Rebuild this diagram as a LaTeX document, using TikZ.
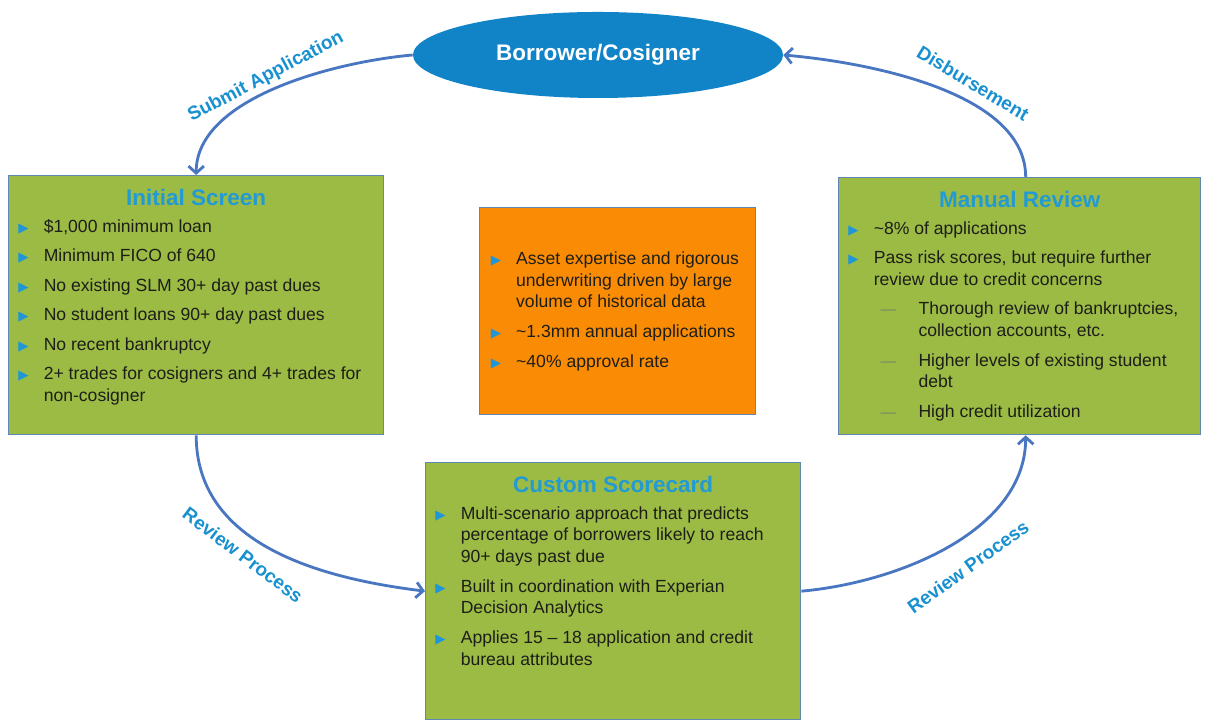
\documentclass[tikz,border=0pt]{standalone}
\usepackage{fontspec}
\setmainfont{Liberation Sans}
\newfontfamily\symfont{DejaVu Sans}
\usetikzlibrary{shapes.geometric,arrows.meta}

\definecolor{boxgreen}{RGB}{155,187,69}
\definecolor{boxorange}{RGB}{250,140,5}
\definecolor{boxedge}{RGB}{95,135,180}
\definecolor{ellblue}{RGB}{17,132,200}
\definecolor{arrowblue}{RGB}{72,118,192}
\definecolor{titleblue}{RGB}{35,155,210}
\definecolor{labelblue}{RGB}{25,145,208}
\definecolor{bulletblue}{RGB}{30,150,215}
\definecolor{bodytext}{RGB}{30,30,25}
\definecolor{dashgray}{RGB}{120,130,105}

\newlength\itmind \setlength\itmind{18pt}
\newcommand\bul{\textcolor{bulletblue}{\symfont\fontsize{9.5}{9.5}\selectfont ▶}}
\newcommand\subdash{\textcolor{dashgray}{\fontsize{11}{11}\selectfont —}}
\newcommand\itm[1]{\par\hangindent=\itmind\hangafter=1\noindent\makebox[\itmind][l]{\bul}#1\par}
\newcommand\subitm[1]{\par{\leftskip=29.8pt\hangindent=27pt\hangafter=1\noindent\makebox[27pt][l]{\subdash}#1\par}}
\newcommand\boxtitle[1]{{\centering\fontsize{16}{19}\selectfont\bfseries\color{titleblue}#1\par}\vspace{-2pt}}
\newcommand\boxbody{\raggedright\leftskip=7pt\rightskip=10pt plus 1fil\hyphenpenalty=10000\exhyphenpenalty=10000
  \parskip=5.5pt\fontsize{12.5}{15.5}\selectfont}

\tikzset{
  stage/.style={draw=boxedge, line width=0.9pt, fill=boxgreen, inner sep=0pt, text=bodytext},
  note/.style={draw=boxedge, line width=0.9pt, fill=boxorange, inner sep=0pt, text=bodytext},
  party/.style={ellipse, fill=ellblue, text=white, font=\fontsize{16}{19}\selectfont\bfseries,
    minimum width=9.25cm, minimum height=2.15cm},
  flow/.style={->, line width=2pt, draw=arrowblue},
  flowlabel/.style={text=labelblue, font=\fontsize{13.5}{16}\selectfont\bfseries},
  >={Straight Barb[length=5pt,width=11pt]}
}

\begin{document}
\begin{tikzpicture}[x=0.025cm,y=0.025cm]
\fill[white] (0,0) rectangle (1210,721);
\useasboundingbox (0,0) rectangle (1210,721);

% who applies and gets paid
\node[party] (borrower) at (598,666) {Borrower/Cosigner};

% the three screening steps
\node[stage, anchor=north west] (initial) at (8,546) {\parbox[c][6.475cm][t]{9.375cm}{\boxbody\vspace*{4pt}
  \boxtitle{Initial Screen}
  \itm{\$1,000 minimum loan}
  \itm{Minimum FICO of 640}
  \itm{No existing SLM 30+ day past dues}
  \itm{No student loans 90+ day past dues}
  \itm{No recent bankruptcy}
  \itm{2+ trades for cosigners and 4+ trades for non-cosigner}}};
\node[stage, anchor=north west] (manual) at (838,544) {\parbox[c][6.425cm][t]{9.05cm}{\boxbody\vspace*{4pt}
  \boxtitle{Manual Review}
  \itm{\textasciitilde 8\% of applications}
  \itm{Pass risk scores, but require further review due to credit concerns}
  \subitm{Thorough review of bankruptcies, collection accounts, etc.}
  \subitm{Higher levels of existing student debt}
  \subitm{High credit utilization}}};
\node[stage, anchor=north west] (scorecard) at (425,259) {\parbox[c][6.425cm][t]{9.375cm}{\boxbody\vspace*{4pt}
  \boxtitle{Custom Scorecard}
  \itm{Multi-scenario approach that predicts percentage of borrowers likely to reach 90+ days past due}
  \itm{Built in coordination with Experian Decision Analytics}
  \itm{Applies 15 – 18 application and credit bureau attributes}}};

% facts in the middle
\node[note, anchor=north west] (stats) at (479,514) {\parbox[c][5.175cm][c]{6.9cm}{\boxbody\leftskip=8pt\rightskip=1pt plus 1fil
  \itm{Asset expertise and rigorous underwriting driven by large volume of historical data}
  \itm{\textasciitilde 1.3mm annual applications}
  \itm{\textasciitilde 40\% approval rate}}};

% the cycle
\draw[flow] (borrower.west) to[out=185,in=90,looseness=0.8] (initial.north);
\draw[flow] (initial.south) to[out=270,in=173] (scorecard.west);
\draw[flow] (scorecard.east) to[out=5,in=270,looseness=0.9] ([xshift=0.15cm]manual.south);
\draw[flow] ([xshift=0.15cm]manual.north) to[out=90,in=-5,looseness=0.8] (borrower.east);

\node[flowlabel, rotate=28] (submit) at (266,644) {Submit Application};
\node[flowlabel, rotate=-31] (disburse) at (973,638) {Disbursement};
\node[flowlabel, rotate=-37] (reviewleft) at (243,166) {Review Process};
\node[flowlabel, rotate=36] (reviewright) at (968,154) {Review Process};
\end{tikzpicture}
\end{document}
